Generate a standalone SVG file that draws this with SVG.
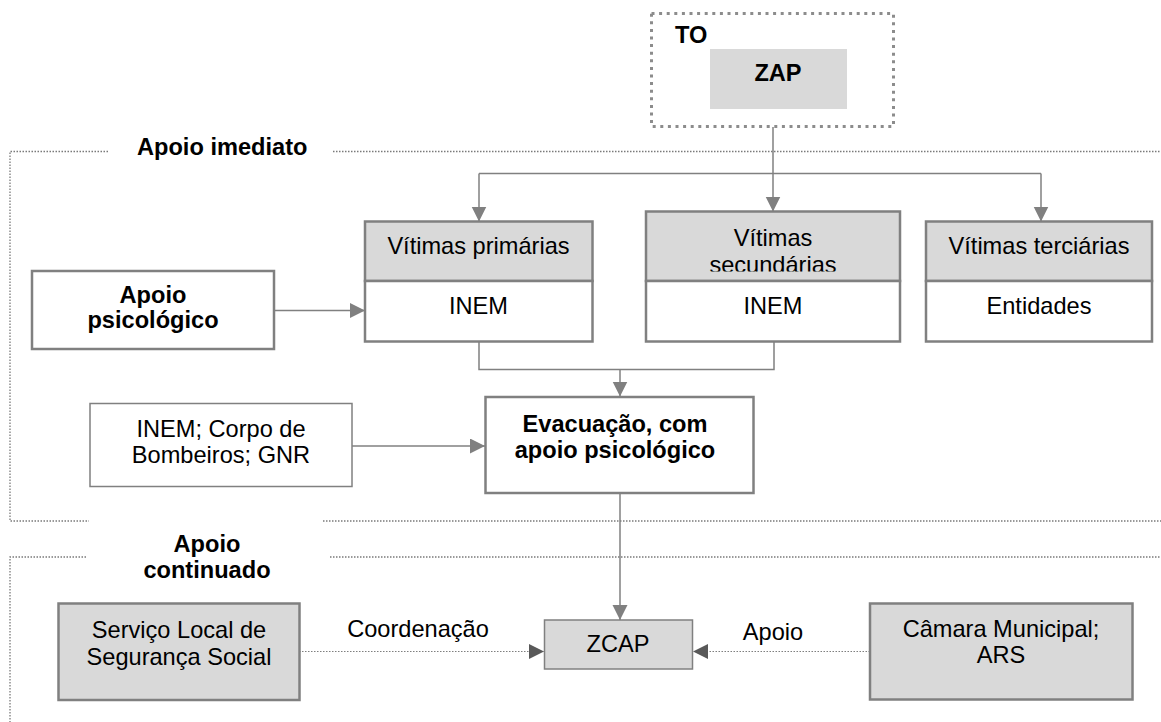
<svg xmlns="http://www.w3.org/2000/svg" width="1161" height="722" viewBox="0 0 1161 722">
<style>
text{font-family:"Liberation Sans",Arial,sans-serif;font-size:23.6px;fill:#000}
.b{font-weight:bold}
.m{text-anchor:middle}
.box{fill:#fff;stroke:#808080;stroke-width:2.5}
.hdr{fill:#d9d9d9;stroke:#808080;stroke-width:2.5}
.gbox{fill:#d9d9d9;stroke:#808080;stroke-width:2.5}
.con{fill:none;stroke:#808080;stroke-width:1.5}
.dcon{fill:none;stroke:#7f7f7f;stroke-width:1.1;stroke-dasharray:1.5 1.5}
.frame{fill:none;stroke:#7a7a7a;stroke-width:1.3;stroke-dasharray:1.5 1.5}
</style>
<defs>
<marker id="ah" markerUnits="userSpaceOnUse" markerWidth="16" markerHeight="16" refX="15" refY="7.5" orient="auto">
<path d="M0,0 L15,7.5 L0,15 z" fill="#808080"/>
</marker>
<marker id="ahd" markerUnits="userSpaceOnUse" markerWidth="16" markerHeight="16" refX="15" refY="7.5" orient="auto">
<path d="M0,0 L15,7.5 L0,15 z" fill="#595959"/>
</marker>
<clipPath id="secClip"><rect x="646" y="212" width="254" height="59.5"/></clipPath>
</defs>

<g id="frames">
<path class="frame" d="M108,151.5 H10 V521 H89"/>
<path class="frame" d="M333,151.5 H1161"/>
<path class="frame" d="M323,521 H1161"/>
<path class="frame" d="M86,557 H10 V722"/>
<path class="frame" d="M330,557 H1161"/>
<text class="b" x="137" y="155">Apoio imediato</text>
<text class="b m" x="207" y="552">Apoio</text>
<text class="b m" x="207" y="578">continuado</text>
</g>

<g id="connectors">
<path class="con" d="M773,127 V211.5" marker-end="url(#ah)"/>
<path class="con" d="M479,173.5 H1041"/>
<path class="con" d="M479,173.5 V221.5" marker-end="url(#ah)"/>
<path class="con" d="M1041,173.5 V221.5" marker-end="url(#ah)"/>
<path class="con" d="M274,310.5 H365" marker-end="url(#ah)"/>
<path class="con" d="M479,342 V369.5 H774 V342"/>
<path class="con" d="M620,369.5 V396.5" marker-end="url(#ah)"/>
<path class="con" d="M352,446 H485" marker-end="url(#ah)"/>
<path class="con" d="M620,493 V620" marker-end="url(#ah)"/>
<path class="dcon" d="M299,651.5 H544" marker-end="url(#ahd)"/>
<path class="dcon" d="M870,651.5 H693" marker-end="url(#ahd)"/>
<text class="m" x="418" y="637">Coordenação</text>
<text class="m" x="773" y="640">Apoio</text>
</g>

<g id="to">
<rect x="651.5" y="13.5" width="242" height="113" fill="#fff" stroke="#8c8c8c" stroke-width="3" stroke-dasharray="3 4.6"/>
<text class="b" x="675" y="42.5">TO</text>
</g>
<g id="zap">
<rect x="710" y="49" width="137" height="60" fill="#d9d9d9"/>
<text class="b m" x="778" y="80.5">ZAP</text>
</g>

<g id="primarias">
<rect class="hdr" x="365" y="221.5" width="227.5" height="59.5"/>
<rect class="box" x="365" y="281" width="227.5" height="60.5"/>
<text class="m" x="478.5" y="254">Vítimas primárias</text>
<text class="m" x="478.5" y="314">INEM</text>
</g>

<g id="secundarias">
<rect class="hdr" x="646" y="211.5" width="254" height="69.5"/>
<rect class="box" x="646" y="281" width="254" height="60.5"/>
<g clip-path="url(#secClip)">
<text class="m" x="773" y="246">Vítimas</text>
<text class="m" x="773" y="273">secundárias</text>
</g>
<text class="m" x="773" y="314">INEM</text>
</g>

<g id="terciarias">
<rect class="hdr" x="926" y="221.5" width="226" height="59.5"/>
<rect class="box" x="926" y="281" width="226" height="60.5"/>
<text class="m" x="1039" y="254">Vítimas terciárias</text>
<text class="m" x="1039" y="314">Entidades</text>
</g>

<g id="apoio-psicologico">
<rect class="box" x="32" y="271" width="242" height="78"/>
<text class="b m" x="153" y="303">Apoio</text>
<text class="b m" x="153" y="328">psicológico</text>
</g>

<g id="inem-corpo">
<rect x="90" y="403.5" width="262" height="83" fill="#fff" stroke="#808080" stroke-width="1.5"/>
<text class="m" x="221" y="436.5">INEM; Corpo de</text>
<text class="m" x="221" y="462.5">Bombeiros; GNR</text>
</g>

<g id="evacuacao">
<rect class="box" x="485.5" y="397" width="268" height="96" stroke-width="3"/>
<text class="b m" x="615" y="431.5">Evacuação, com</text>
<text class="b m" x="615" y="458">apoio psicológico</text>
</g>

<g id="servico">
<rect class="gbox" x="58.5" y="603.5" width="241" height="96.5"/>
<text class="m" x="179" y="638">Serviço Local de</text>
<text class="m" x="179" y="665">Segurança Social</text>
</g>

<g id="zcap">
<rect x="544.5" y="620" width="148" height="49" fill="#d9d9d9" stroke="#808080" stroke-width="1.5"/>
<text class="m" x="618" y="652">ZCAP</text>
</g>

<g id="camara">
<rect class="gbox" x="870" y="603.5" width="262.5" height="96"/>
<text class="m" x="1001" y="637">Câmara Municipal;</text>
<text class="m" x="1001" y="663">ARS</text>
</g>
</svg>
